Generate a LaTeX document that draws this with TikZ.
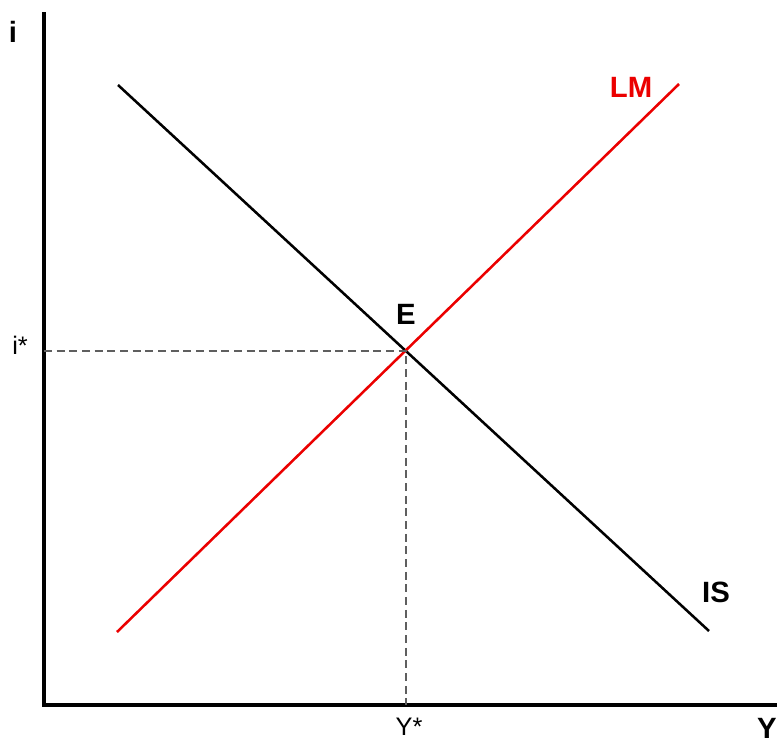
\documentclass[tikz,border=0pt]{standalone}
\usepackage{fontspec}
\setmainfont{Liberation Sans}
\usetikzlibrary{arrows.meta}
\definecolor{lmred}{RGB}{235,0,0}
\definecolor{dashgray}{RGB}{95,95,95}
\tikzset{
  axis/.style={line width=2.7pt},
  curve/.style={line width=1.9pt},
  guide/.style={dashgray,line width=1.4pt,dash pattern=on 6pt off 3.5pt},
  biglab/.style={font=\fontsize{22}{24}\selectfont\bfseries,inner sep=0pt},
  smalllab/.style={font=\fontsize{19}{21}\selectfont,inner sep=0pt}
}
\begin{document}
\begin{tikzpicture}[x=0.75pt,y=-0.75pt]
\useasboundingbox (0,0) rectangle (777,740);
% axes
\coordinate (O) at (44,705);
\coordinate (ytop) at (44,12);
\coordinate (xend) at (777,705);
\draw[axis] (ytop)--(O)--(xend);
\node[biglab] (ilab) at (13,32) {i};
\node[biglab] (Ylab) at (767,728) {Y};
% curves
\coordinate (IS1) at (118,85);
\coordinate (IS2) at (709,631);
\coordinate (LM1) at (117,632);
\coordinate (LM2) at (679,84);
\draw[curve] (IS1)--(IS2);
\draw[curve,lmred] (LM1)--(LM2);
\node[biglab] (ISlab) at (716,592) {IS};
\node[biglab,lmred] (LMlab) at (631,87) {LM};
% equilibrium
\coordinate (E) at (intersection of IS1--IS2 and LM1--LM2);
\coordinate (Ei) at (O|-E);
\coordinate (EY) at (E|-O);
\draw[guide] (Ei)--(E)--(EY);
\node[biglab] (Elab) at (406,314) {E};
\node[smalllab] (istar) at (20,345) {i*};
\node[smalllab] (Ystar) at (409,727) {Y*};
\end{tikzpicture}
\end{document}
